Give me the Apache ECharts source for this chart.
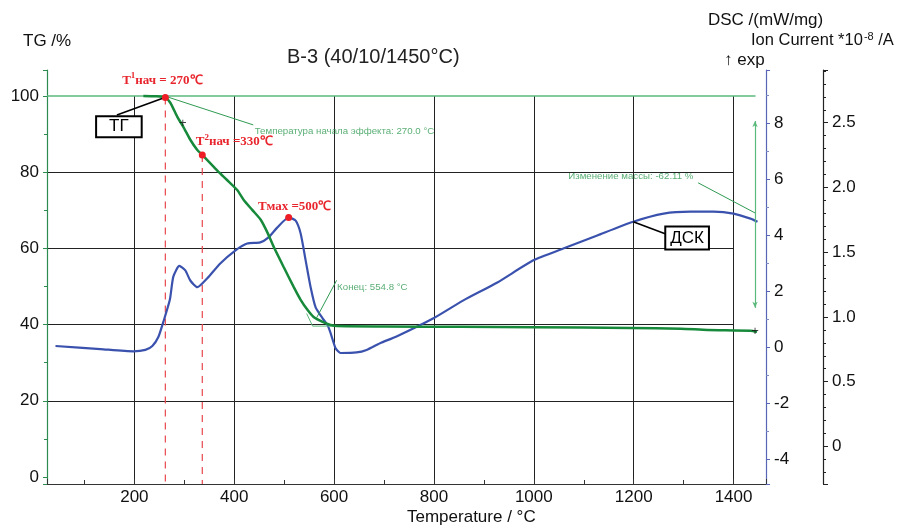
<!DOCTYPE html>
<html>
<head>
<meta charset="utf-8">
<script src="https://cdn.jsdelivr.net/npm/echarts@6/dist/echarts.min.js"></script>
<style>
  html, body { margin: 0; padding: 0; background: #fff; }
  #chart { width: 898px; height: 525px; }
</style>
</head>
<body>
<div id="chart"></div>
<script>
// температура, °C
const tgTemp = [218, 242, 262, 272, 286, 298, 312, 326, 336, 358, 369, 385, 406, 419, 436, 453, 467, 479, 499, 519, 533, 547, 559, 577, 593, 607, 700, 853, 1000, 1194, 1294, 1348, 1434, 1447];
const tgValues = [100, 99.9, 99.6, 98.2, 94.5, 91.9, 88.5, 85.8, 84.5, 81.5, 80, 78, 75.3, 72.7, 70.1, 67.5, 64, 60.4, 55.1, 49.9, 46.5, 43.8, 42, 40.7, 39.9, 39.6, 39.5, 39.4, 39.3, 39.1, 38.9, 38.6, 38.4, 38.1];

const dscTemp = [42, 132, 198, 222, 236, 248, 258, 271, 278, 290, 302, 312, 326, 346, 372, 402, 426, 452, 468, 486, 509, 523, 533, 543, 553, 563, 577, 587, 593, 603, 613, 645, 665, 692, 725, 799, 859, 927, 999, 1059, 1127, 1199, 1260, 1314, 1360, 1400, 1434, 1448];
const dscValues = [0.04, -0.07, -0.15, -0.1, 0.04, 0.36, 0.9, 1.69, 2.52, 2.9, 2.74, 2.38, 2.14, 2.46, 2.99, 3.45, 3.7, 3.74, 3.91, 4.27, 4.63, 4.52, 4.06, 3.1, 2.14, 1.42, 1.03, 0.78, 0.5, -0.04, -0.21, -0.19, -0.1, 0.14, 0.38, 1.03, 1.67, 2.31, 3.1, 3.52, 3.99, 4.48, 4.77, 4.84, 4.84, 4.77, 4.59, 4.48];

// базовая линия 100 %
const baseline = [[25, 100], [1444, 100]];

// точки начала эффектов (ТГ) и максимум ДСК
const onsetPoints = [[262, 99.6], [336, 84.5]];
const onsetLabels = ['270℃', '330℃'];
const peakPoint = [509, 4.63];
const peakLabel = '500℃';

// подписи-выноски
const tgBox = [169, 91.9];
const tgBoxLine = [[165, 95.0], [261, 99.6]];
const dscBox = [1307, 3.9];
const dscBoxLine = [[1199, 4.48], [1263, 4.05]];

const noteOnset = [441, 90.8];
const noteOnsetLine = [[267, 99.7], [438, 92.4]];
const noteEnd = [606, 49.9];
const noteEndLine = [[605, 51.6], [565, 41.8]];
const noteEndTangent = [[545, 42.9], [557, 39.6], [607, 39.6]];
const noteMass = [1069, 78.8];
const noteMassLine = [[1329, 77.2], [1443, 69.3]];
const massArrow = [[1443, 93.4], [1443, 44.4]];
const plusMarks = [[297, 92.9], [1443, 38.1]];

const xMin = 25, xMax = 1465;

const chart = echarts.init(document.getElementById('chart'));

const tickFont = { fontFamily: 'Liberation Sans', fontSize: 17, color: '#111' };
const redLabel = {
  t: { fontFamily: 'Liberation Serif', fontWeight: 'bold', fontSize: 13, color: '#e8252d' },
  s: { fontFamily: 'Liberation Serif', fontWeight: 'bold', fontSize: 9, color: '#e8252d', padding: [0, 0, 9, 0] }
};
const greenNote = { fontFamily: 'Liberation Sans', fontSize: 9.7, color: '#2f9a52' };

function textPoint(pos, text, style) {
  return {
    type: 'scatter', xAxisIndex: 0, yAxisIndex: 0, symbolSize: 0, silent: true,
    data: [pos],
    label: Object.assign({ show: true, position: 'inside', align: 'left', verticalAlign: 'middle', formatter: text }, style)
  };
}

function thinLine(data, color, width, yIdx) {
  return {
    type: 'line', xAxisIndex: 0, yAxisIndex: yIdx || 0, data: data, symbol: 'none', silent: true,
    lineStyle: { color: color, width: width }
  };
}

const series = [
  thinLine(baseline, '#5cb97c', 1.5),
  {
    name: 'ДСК', type: 'line', xAxisIndex: 0, yAxisIndex: 1, symbol: 'none', smooth: 0.2,
    data: dscTemp.map((t, i) => [t, dscValues[i]]),
    lineStyle: { color: '#3a52ad', width: 2.2 }, z: 3
  },
  {
    name: 'ТГ', type: 'line', xAxisIndex: 0, yAxisIndex: 0, symbol: 'none', smooth: 0.2,
    data: tgTemp.map((t, i) => [t, tgValues[i]]),
    lineStyle: { color: '#168a3a', width: 2.5 }, z: 4
  }
];

// красные пунктирные вертикали
onsetPoints.forEach(p => {
  series.push({
    type: 'line', xAxisIndex: 0, yAxisIndex: 0, symbol: 'none', silent: true,
    data: [p, [p[0], -1.83]],
    lineStyle: { color: '#e8474d', width: 1.2, type: [7, 6] }, z: 2
  });
});

// красные точки с подписями
series.push({
  type: 'scatter', xAxisIndex: 0, yAxisIndex: 0, symbolSize: 7, z: 6,
  itemStyle: { color: '#ee1c25', opacity: 1 },
  data: onsetPoints.map((p, i) => ({
    value: p,
    label: {
      show: true, position: 'inside', offset: i === 0 ? [-3, -17] : [32, -13],
      formatter: '{t|Т}{s|' + (i + 1) + '}{t|нач ' + (i === 0 ? '= ' : '=') + onsetLabels[i] + '}',
      rich: redLabel
    }
  }))
});
series.push({
  type: 'scatter', xAxisIndex: 0, yAxisIndex: 1, symbolSize: 7, z: 6,
  itemStyle: { color: '#ee1c25', opacity: 1 },
  data: [{
    value: peakPoint,
    label: { show: true, position: 'inside', offset: [6, -11], formatter: '{t|Тмах =' + peakLabel + '}', rich: redLabel }
  }]
});

// выноски ТГ / ДСК
series.push(thinLine(tgBoxLine, '#000', 1.6));
series.push(thinLine(dscBoxLine, '#000', 1.6, 1));
const boxLabel = {
  show: true, position: 'inside', fontFamily: 'Liberation Sans', fontSize: 17, color: '#000', opacity: 1,
  lineHeight: 18, backgroundColor: '#fff', borderColor: '#000', borderWidth: 2, padding: [1, 12, 0, 12]
};
series.push({
  type: 'scatter', xAxisIndex: 0, yAxisIndex: 0, symbolSize: 0, z: 7, silent: true,
  itemStyle: { opacity: 1 },
  data: [{ value: tgBox, label: Object.assign({}, boxLabel, { formatter: 'ТГ' }) }]
});
series.push({
  type: 'scatter', xAxisIndex: 0, yAxisIndex: 1, symbolSize: 0, z: 7, silent: true,
  itemStyle: { opacity: 1 },
  data: [{ value: dscBox, label: Object.assign({}, boxLabel, { formatter: 'ДСК', padding: [2, 4, 1, 4] }) }]
});

// зелёные пояснения
series.push(thinLine(noteOnsetLine, '#2f9a52', 1));
series.push(thinLine(noteEndLine, '#2f9a52', 1));
series.push(thinLine(noteEndTangent, '#5cb97c', 1));
series.push(thinLine(noteMassLine, '#2f9a52', 1));
series.push(textPoint(noteOnset, 'Температура начала эффекта: 270.0 °C', greenNote));
series.push(textPoint(noteEnd, 'Конец: 554.8 °C', greenNote));
series.push(textPoint(noteMass, 'Изменение массы: -62.11 %', greenNote));
series.push({
  type: 'line', xAxisIndex: 0, yAxisIndex: 0, symbol: 'none', silent: true, data: [],
  markLine: {
    silent: true, symbol: ['arrow', 'arrow'], symbolSize: [4, 6], label: { show: false },
    lineStyle: { color: '#5cb97c', width: 1.2, type: 'solid' },
    data: [[{ coord: massArrow[0] }, { coord: massArrow[1] }]]
  }
});
series.push({
  type: 'scatter', xAxisIndex: 0, yAxisIndex: 0, symbolSize: 0, silent: true, z: 8,
  data: plusMarks,
  label: { show: true, position: 'inside', formatter: '+', fontFamily: 'Liberation Sans', fontSize: 13, color: '#111' }
});

const option = {
  animation: false,
  backgroundColor: '#fff',
  grid: [
    { left: 47, right: 132, top: 70, bottom: 41 },
    { left: 47, right: 132, top: 96, bottom: 41 },
    { left: 47, right: 165, top: 96, bottom: 48 }
  ],
  xAxis: [
    {
      gridIndex: 0, type: 'value', min: xMin, max: xMax, splitNumber: 7,
      axisLine: { show: true, onZero: false, lineStyle: { color: '#333', width: 1.2 } },
      axisTick: { show: true, inside: true, length: 5, lineStyle: { color: '#333' } },
      minorTick: { show: true, splitNumber: 2, length: 4, lineStyle: { color: '#333' } },
      axisLabel: Object.assign({ margin: 5, showMinLabel: false, showMaxLabel: false, formatter: v => String(v) }, tickFont),
      splitLine: { show: false }
    },
    {
      gridIndex: 1, type: 'value', min: xMin, max: xMax, splitNumber: 7,
      axisLine: { show: false }, axisTick: { show: false }, axisLabel: { show: false },
      splitLine: { show: true, showMinLine: false, showMaxLine: false, lineStyle: { color: '#222', width: 1 } }
    },
    {
      gridIndex: 2, type: 'value', min: xMin, max: 1400,
      axisLine: { show: false }, axisTick: { show: false }, axisLabel: { show: false }, splitLine: { show: false }
    }
  ],
  yAxis: [
    {
      gridIndex: 0, type: 'value', min: -1.83, max: 106.8, splitNumber: 5, position: 'left',
      axisLine: { show: true, onZero: false, lineStyle: { color: '#2e8b50', width: 1.2 } },
      axisTick: { show: true, length: 4, lineStyle: { color: '#2e8b50' } },
      minorTick: { show: true, splitNumber: 2, length: 3, lineStyle: { color: '#2e8b50' } },
      axisLabel: Object.assign({ margin: 8, showMinLabel: false, showMaxLabel: false }, tickFont),
      splitLine: { show: false }
    },
    {
      gridIndex: 0, type: 'value', min: -4.89, max: 9.9, splitNumber: 7, position: 'right',
      axisLine: { show: true, onZero: false, lineStyle: { color: '#5767b5', width: 1.2 } },
      axisTick: { show: true, length: 4, lineStyle: { color: '#5767b5' } },
      minorTick: { show: true, splitNumber: 2, length: 3, lineStyle: { color: '#7d8ac8' } },
      axisLabel: Object.assign({ margin: 8, showMinLabel: false, showMaxLabel: false }, tickFont),
      splitLine: { show: false }
    },
    {
      gridIndex: 0, type: 'value', min: -0.29, max: 2.907, splitNumber: 6, position: 'right', offset: 57,
      axisLine: { show: true, onZero: false, lineStyle: { color: '#222', width: 1.2 } },
      axisTick: { show: true, length: 5, lineStyle: { color: '#222' } },
      minorTick: { show: true, splitNumber: 5, length: 3, lineStyle: { color: '#222' } },
      axisLabel: Object.assign({
        margin: 9, showMinLabel: false, showMaxLabel: false,
        formatter: v => (Math.abs(v) < 1e-9 ? '0' : v.toFixed(1))
      }, tickFont),
      splitLine: { show: false }
    },
    {
      gridIndex: 1, type: 'value', min: -1.83, max: 100,
      axisLine: { show: false }, axisTick: { show: false }, axisLabel: { show: false }, splitLine: { show: false }
    },
    {
      gridIndex: 2, type: 'value', min: 0, max: 100, splitNumber: 5,
      axisLine: { show: false }, axisTick: { show: false }, axisLabel: { show: false },
      splitLine: { show: true, showMinLine: false, showMaxLine: false, lineStyle: { color: '#222', width: 1 } }
    }
  ],
  graphic: [
    { type: 'text', left: 23, top: 33, style: { text: 'TG /%', font: '17px "Liberation Sans"', fill: '#111' } },
    { type: 'text', left: 287, top: 47, style: { text: 'B-3 (40/10/1450°C)', font: '20px "Liberation Sans"', fill: '#222' } },
    { type: 'text', left: 708, top: 12, style: { text: 'DSC /(mW/mg)', font: '17px "Liberation Sans"', fill: '#111' } },
    {
      type: 'text', left: 751, top: 31,
      style: {
        text: '{a|Ion Current *10}{s|-8}{a| /A}',
        rich: {
          a: { font: '16.5px "Liberation Sans"', fill: '#111' },
          s: { font: '11px "Liberation Sans"', fill: '#111', padding: [0, 0, 7, 1] }
        }
      }
    },
    { type: 'text', left: 724, top: 52, style: { text: '↑ exp', font: '17px "Liberation Sans"', fill: '#111' } },
    { type: 'text', left: 407, top: 509, style: { text: 'Temperature / °C', font: '17px "Liberation Sans"', fill: '#111' } }
  ],
  series: series
};

chart.setOption(option);
</script>
</body>
</html>
